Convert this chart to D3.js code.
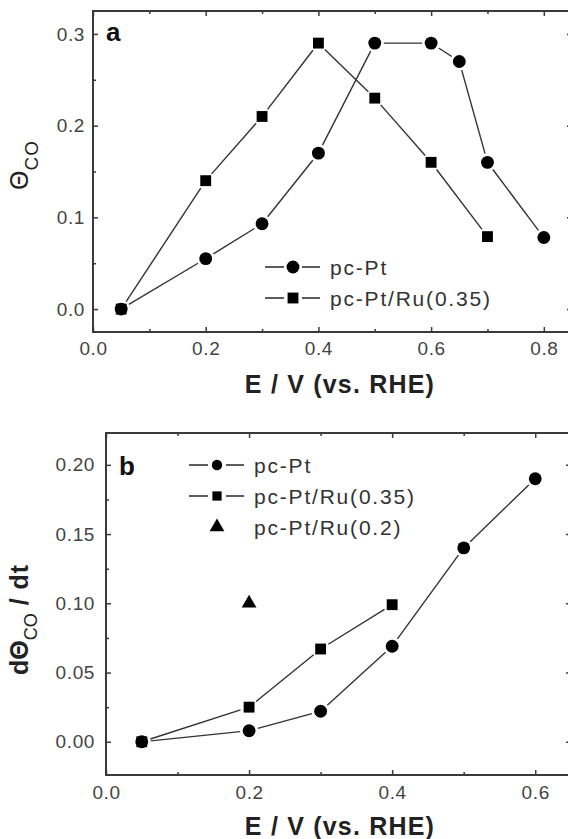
<!DOCTYPE html>
<html>
<head>
<meta charset="utf-8">
<script src="https://cdnjs.cloudflare.com/ajax/libs/d3/7.8.5/d3.min.js"></script>
<style>
  body { margin: 0; background: #fff; }
  text { font-family: "Liberation Sans", Arial, sans-serif; }
</style>
</head>
<body>
<div id="canvas"></div>
<script>
// panel a : CO coverage against potential
var potA_pt   = [0.05, 0.2, 0.3, 0.4, 0.5, 0.6, 0.65, 0.7, 0.8];
var thetaA_pt = [0, 0.055, 0.093, 0.17, 0.29, 0.29, 0.27, 0.16, 0.078];
var potA_ru   = [0.05, 0.2, 0.3, 0.4, 0.5, 0.6, 0.7];
var thetaA_ru = [0, 0.14, 0.21, 0.29, 0.23, 0.16, 0.079];

// panel b : d(theta)/dt against potential
var potB_pt    = [0.05, 0.2, 0.3, 0.4, 0.5, 0.6];
var rateB_pt   = [0, 0.008, 0.022, 0.069, 0.14, 0.19];
var potB_ru35  = [0.05, 0.2, 0.3, 0.4];
var rateB_ru35 = [0, 0.025, 0.067, 0.099];
var potB_ru20  = [0.2];
var rateB_ru20 = [0.1];

// ticks
var xTicksA = [0, 0.2, 0.4, 0.6, 0.8];
var xMinorA = [0.1, 0.3, 0.5, 0.7];
var yTicksA = [0, 0.1, 0.2, 0.3];
var yMinorA = [0.05, 0.15, 0.25];
var xTicksB = [0, 0.2, 0.4, 0.6];
var xMinorB = [0.1, 0.3, 0.5];
var yTicksB = [0, 0.05, 0.1, 0.15, 0.2];
var yMinorB = [0.025, 0.075, 0.125, 0.175];

var legendA = ["pc-Pt", "pc-Pt/Ru(0.35)"];
var legendB = ["pc-Pt", "pc-Pt/Ru(0.35)", "pc-Pt/Ru(0.2)"];

var svg = d3.select("#canvas").append("svg").attr("width", 568).attr("height", 839);

function zip(xs, ys) { return xs.map(function(v, i) { return {x: v, y: ys[i]}; }); }

var symbols = {
  circle: d3.symbol().type(d3.symbolCircle).size(130),
  square: d3.symbol().type(d3.symbolSquare).size(118),
  triangle: d3.symbol().type(d3.symbolTriangle).size(95)
};

function drawPanel(cfg) {
  var g = svg.append("g");
  var x = d3.scaleLinear().domain(cfg.xDomain).range([cfg.left, cfg.right]);
  var y = d3.scaleLinear().domain(cfg.yDomain).range([cfg.bottom, cfg.top]);

  // frame
  g.append("rect")
    .attr("x", cfg.left).attr("y", cfg.top)
    .attr("width", cfg.right - cfg.left).attr("height", cfg.bottom - cfg.top)
    .attr("fill", "none").attr("stroke", "#3a3a3a").attr("stroke-width", 2);

  // axes, ticks point inward on all sides
  function axis(gen, tr, vals, size, fmt, pad) {
    var a = gen.tickValues(vals).tickSize(-size).tickSizeOuter(0).tickPadding(pad || 8);
    a.tickFormat(fmt || "");
    var s = g.append("g").attr("transform", tr).call(a);
    s.select(".domain").remove();
    s.selectAll("line").attr("stroke", "#3a3a3a").attr("stroke-width", 1.5);
    s.selectAll("text").attr("fill", "#444").style("font-size", "19px")
      .style("letter-spacing", "0.6px").attr("font-family", null);
    return s;
  }
  axis(d3.axisBottom(x), "translate(0," + cfg.bottom + ")", cfg.xTicks, 5, cfg.xFmt, cfg.xPad);
  axis(d3.axisBottom(x), "translate(0," + cfg.bottom + ")", cfg.xMinor, 3);
  axis(d3.axisTop(x), "translate(0," + cfg.top + ")", cfg.xTicks, 5);
  axis(d3.axisTop(x), "translate(0," + cfg.top + ")", cfg.xMinor, 3);
  axis(d3.axisLeft(y), "translate(" + cfg.left + ",0)", cfg.yTicks, 5, cfg.yFmt, cfg.yPad);
  axis(d3.axisLeft(y), "translate(" + cfg.left + ",0)", cfg.yMinor, 3);
  axis(d3.axisRight(y), "translate(" + cfg.right + ",0)", cfg.yTicks, 5);
  axis(d3.axisRight(y), "translate(" + cfg.right + ",0)", cfg.yMinor, 3);

  // series: line segments with small gaps at the markers
  var gap = 9;
  cfg.series.forEach(function(s) {
    var pts = s.data.map(function(d) { return [x(d.x), y(d.y)]; });
    if (s.line) {
      for (var i = 0; i < pts.length - 1; i++) {
        var p = pts[i], q = pts[i + 1];
        var dx = q[0] - p[0], dy = q[1] - p[1];
        var len = Math.sqrt(dx * dx + dy * dy);
        if (len < gap * 2) continue;
        var ux = dx / len, uy = dy / len;
        g.append("line")
          .attr("x1", p[0] + ux * gap).attr("y1", p[1] + uy * gap)
          .attr("x2", q[0] - ux * gap).attr("y2", q[1] - uy * gap)
          .attr("stroke", "#333").attr("stroke-width", 1.4);
      }
    }
    g.selectAll(null).data(pts).enter().append("path")
      .attr("d", symbols[s.symbol])
      .attr("transform", function(d) { return "translate(" + d[0] + "," + d[1] + ")"; })
      .attr("fill", "#000");
  });

  // legend
  cfg.legend.forEach(function(item, i) {
    var ly = cfg.legY + i * cfg.legStep;
    var mx = cfg.legX + 28;
    if (item.line) {
      g.append("line").attr("x1", cfg.legX).attr("x2", mx - 9).attr("y1", ly).attr("y2", ly)
        .attr("stroke", "#333").attr("stroke-width", 1.6);
      g.append("line").attr("x1", mx + 9).attr("x2", mx + 27).attr("y1", ly).attr("y2", ly)
        .attr("stroke", "#333").attr("stroke-width", 1.6);
    }
    g.append("path").attr("d", item.legSym || symbols[item.symbol])
      .attr("transform", "translate(" + mx + "," + ly + ")").attr("fill", "#000");
    g.append("text").attr("x", cfg.legX + 65).attr("y", ly + 7.5)
      .attr("fill", "#333").style("font-size", "21px").style("letter-spacing", "1.8px")
      .text(item.name);
  });

  // panel letter
  g.append("text").attr("x", cfg.letterX).attr("y", cfg.letterY)
    .style("font-size", "26px").style("font-weight", "bold").attr("fill", "#111")
    .text(cfg.letter);

  // x title
  g.append("text").attr("x", 340).attr("y", cfg.xTitleY).attr("text-anchor", "middle")
    .style("font-size", "25px").style("font-weight", "bold").style("letter-spacing", "1.2px")
    .attr("fill", "#222").text("E / V (vs. RHE)");

  return {x: x, y: y};
}

drawPanel({
  xDomain: [0, 0.85], yDomain: [-0.025, 0.325],
  left: 93, right: 572, top: 11, bottom: 332,
  xTicks: xTicksA, xMinor: xMinorA, yTicks: yTicksA, yMinor: yMinorA,
  xFmt: d3.format(".1f"), yFmt: d3.format(".1f"), xPad: 10, yPad: 8,
  series: [
    {data: zip(potA_pt, thetaA_pt), symbol: "circle", line: true},
    {data: zip(potA_ru, thetaA_ru), symbol: "square", line: true}
  ],
  legend: [
    {name: legendA[0], symbol: "circle", line: true},
    {name: legendA[1], symbol: "square", line: true}
  ],
  legX: 265, legY: 267, legStep: 31,
  letter: "a", letterX: 106, letterY: 41, xTitleY: 393
});

drawPanel({
  xDomain: [0, 0.65], yDomain: [-0.024, 0.223],
  left: 106, right: 571, top: 433, bottom: 775,
  xTicks: xTicksB, xMinor: xMinorB, yTicks: yTicksB, yMinor: yMinorB,
  xFmt: d3.format(".1f"), yFmt: d3.format(".2f"), xPad: 11, yPad: 11,
  series: [
    {data: zip(potB_pt, rateB_pt), symbol: "circle", line: true},
    {data: zip(potB_ru35, rateB_ru35), symbol: "square", line: true},
    {data: zip(potB_ru20, rateB_ru20), symbol: "triangle", line: false}
  ],
  legend: [
    {name: legendB[0], symbol: "circle", line: true, legSym: d3.symbol().type(d3.symbolCircle).size(85)},
    {name: legendB[1], symbol: "square", line: true, legSym: d3.symbol().type(d3.symbolSquare).size(85)},
    {name: legendB[2], symbol: "triangle", line: false}
  ],
  legX: 189, legY: 465, legStep: 31,
  letter: "b", letterX: 119, letterY: 475, xTitleY: 835
});

// y titles
var tA = svg.append("text").attr("transform", "translate(28,190) rotate(-90)").attr("fill", "#222");
tA.append("tspan").style("font-size", "25px").text("\u0398");
tA.append("tspan").style("font-size", "19px").attr("dy", 10).style("letter-spacing", "1px").text("CO");

var tB = svg.append("text").attr("transform", "translate(28,675) rotate(-90)").attr("fill", "#222")
  .style("font-weight", "bold");
tB.append("tspan").style("font-size", "25px").text("d\u0398");
tB.append("tspan").style("font-size", "18px").style("font-weight", "normal").attr("dy", 9).text("CO");
tB.append("tspan").style("font-size", "25px").attr("dy", -9).style("letter-spacing", "1px").text(" / dt");
</script>
</body>
</html>
